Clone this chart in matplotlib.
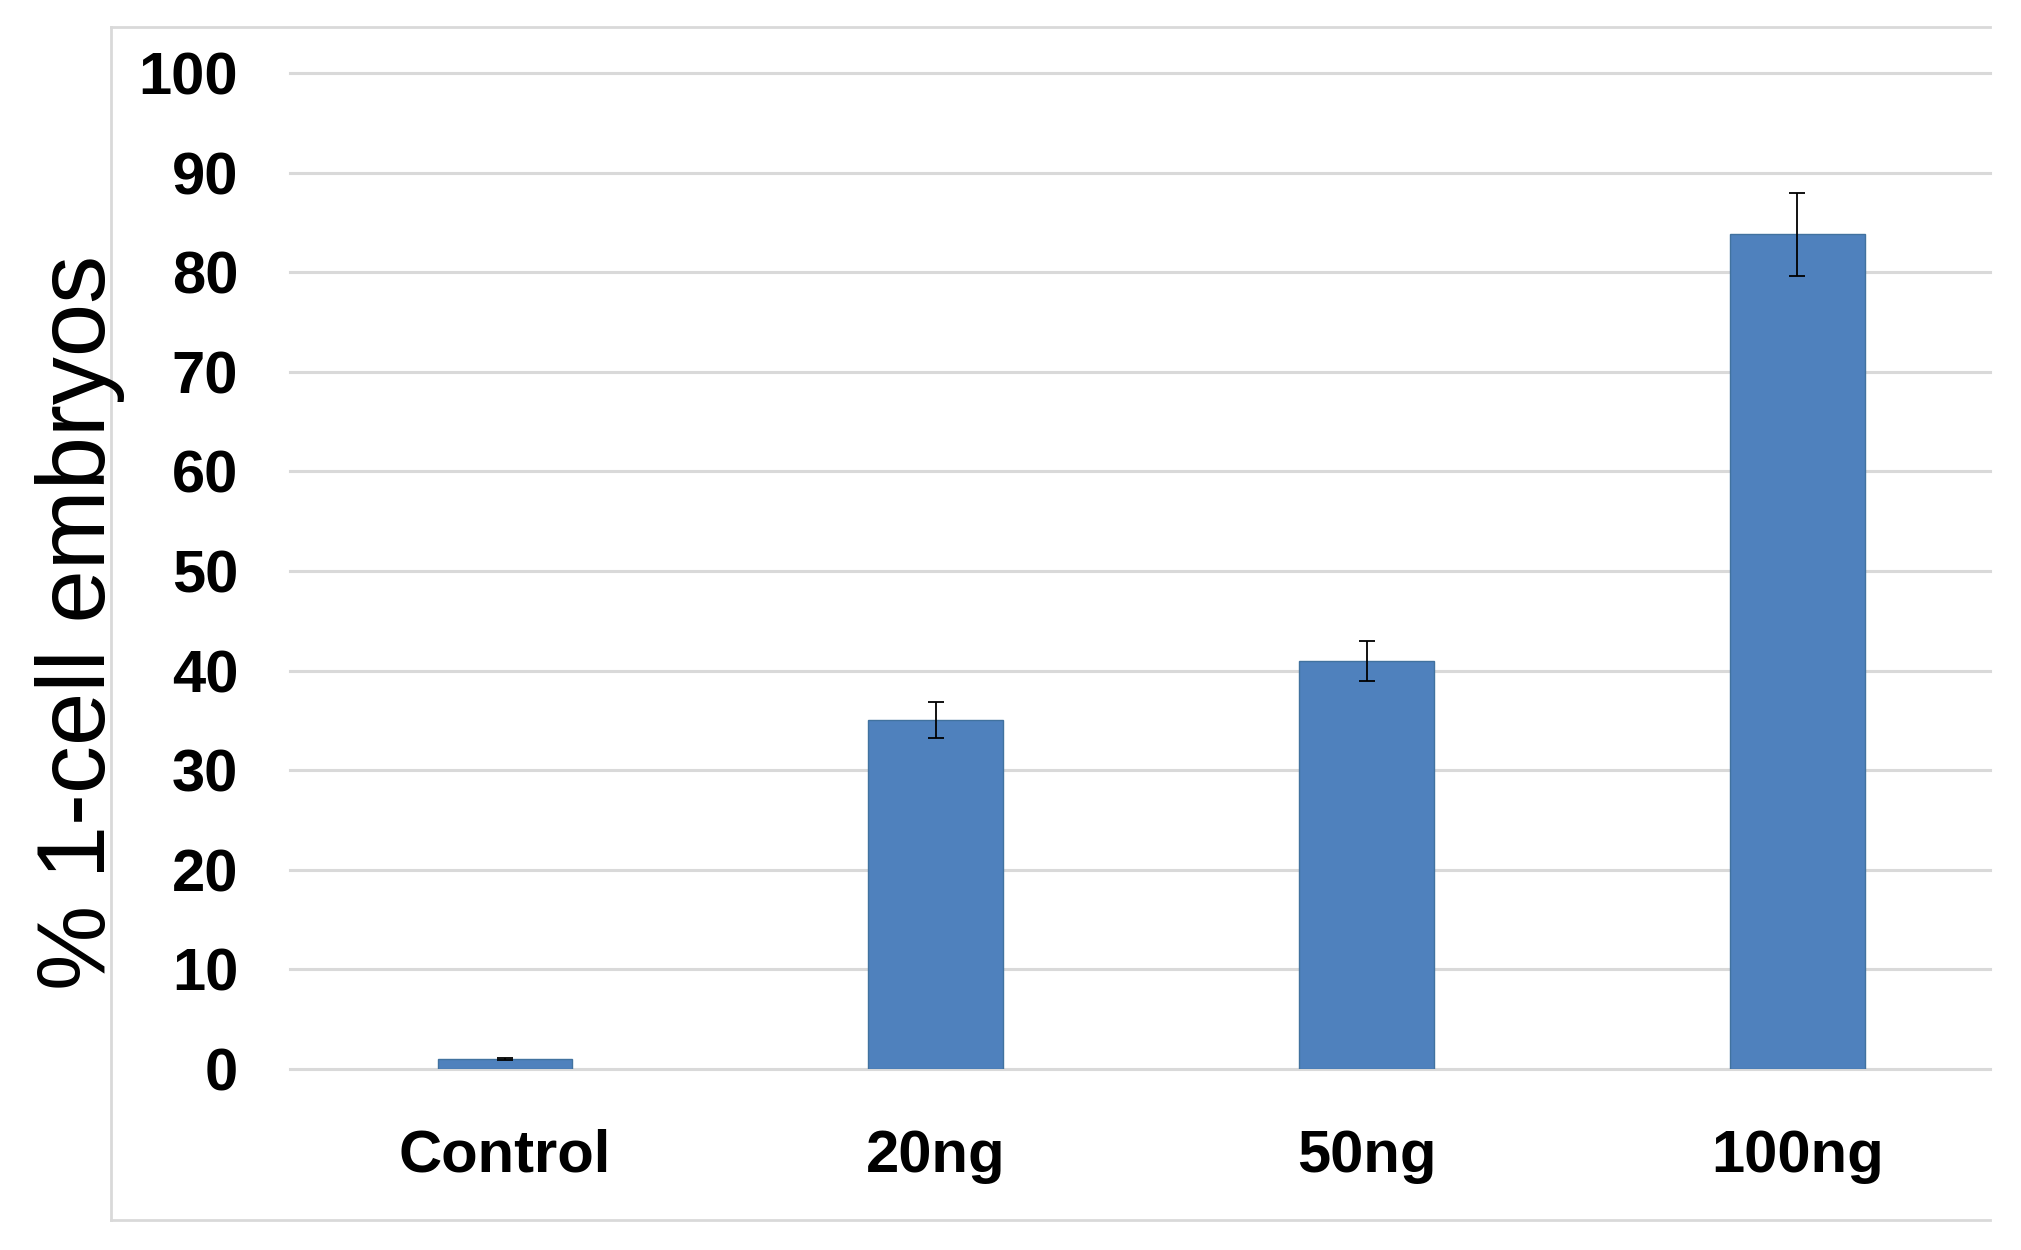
import matplotlib
matplotlib.use("Agg")
import matplotlib.pyplot as plt
from matplotlib.lines import Line2D

categories = ["Control", "20ng", "50ng", "100ng"]
values = [1.0, 35.0, 41.0, 83.8]
errors = [0.1, 1.8, 2.0, 4.2]
yticks = [0, 10, 20, 30, 40, 50, 60, 70, 80, 90, 100]

W, H = 2021, 1250
fig = plt.figure(figsize=(W / 100, H / 100), dpi=100)
fig.patch.set_facecolor("white")

# axes placement in pixels
x0, x1 = 289.6, 1990
y_top, y_bot = 73, 1069
ax = fig.add_axes([x0 / W, (H - y_bot) / H, (x1 - x0) / W, (y_bot - y_top) / H])

xpos = list(range(len(categories)))
ax.bar(xpos, values, width=0.313, color="#4F81BD", edgecolor="#41729F",
       linewidth=1.0, zorder=3)
ax.errorbar(xpos, values, yerr=errors, fmt="none", ecolor="black",
            elinewidth=1.3, capsize=6, capthick=1.3, zorder=4)

ax.set_xlim(-0.5, -0.5 + (x1 - x0) / 430.8)
ax.set_ylim(0, 100)
ax.set_yticks(yticks)
ax.set_xticks(xpos)
ax.set_xticklabels(categories)
for s in ax.spines.values():
    s.set_visible(False)
ax.yaxis.grid(True, color="#D9D9D9", linewidth=2.2, zorder=0)
ax.set_axisbelow(True)
ax.tick_params(axis="both", length=0)
ax.tick_params(axis="y", pad=37)
ax.tick_params(axis="x", pad=43)
for lab in ax.get_yticklabels() + ax.get_xticklabels():
    lab.set_fontfamily("Liberation Sans")
    lab.set_fontweight("bold")
    lab.set_fontsize(43)
for gl in ax.get_ygridlines():
    gl.set_clip_on(False)

fig.text(80 / W, 1 - 622 / H, "% 1-cell embryos", rotation=90,
         ha="center", va="center", fontsize=69, family="Liberation Sans")

# outer light border (left, top, bottom)
bc = "#D9D9D9"
fig.add_artist(Line2D([111 / W, 111 / W], [1 - 27 / H, 1 - 1220 / H],
                      transform=fig.transFigure, color=bc, linewidth=2))
fig.add_artist(Line2D([111 / W, 1990 / W], [1 - 27 / H, 1 - 27 / H],
                      transform=fig.transFigure, color=bc, linewidth=2))
fig.add_artist(Line2D([111 / W, 1990 / W], [1 - 1220 / H, 1 - 1220 / H],
                      transform=fig.transFigure, color=bc, linewidth=2))

fig.savefig("out.png", dpi=100)
